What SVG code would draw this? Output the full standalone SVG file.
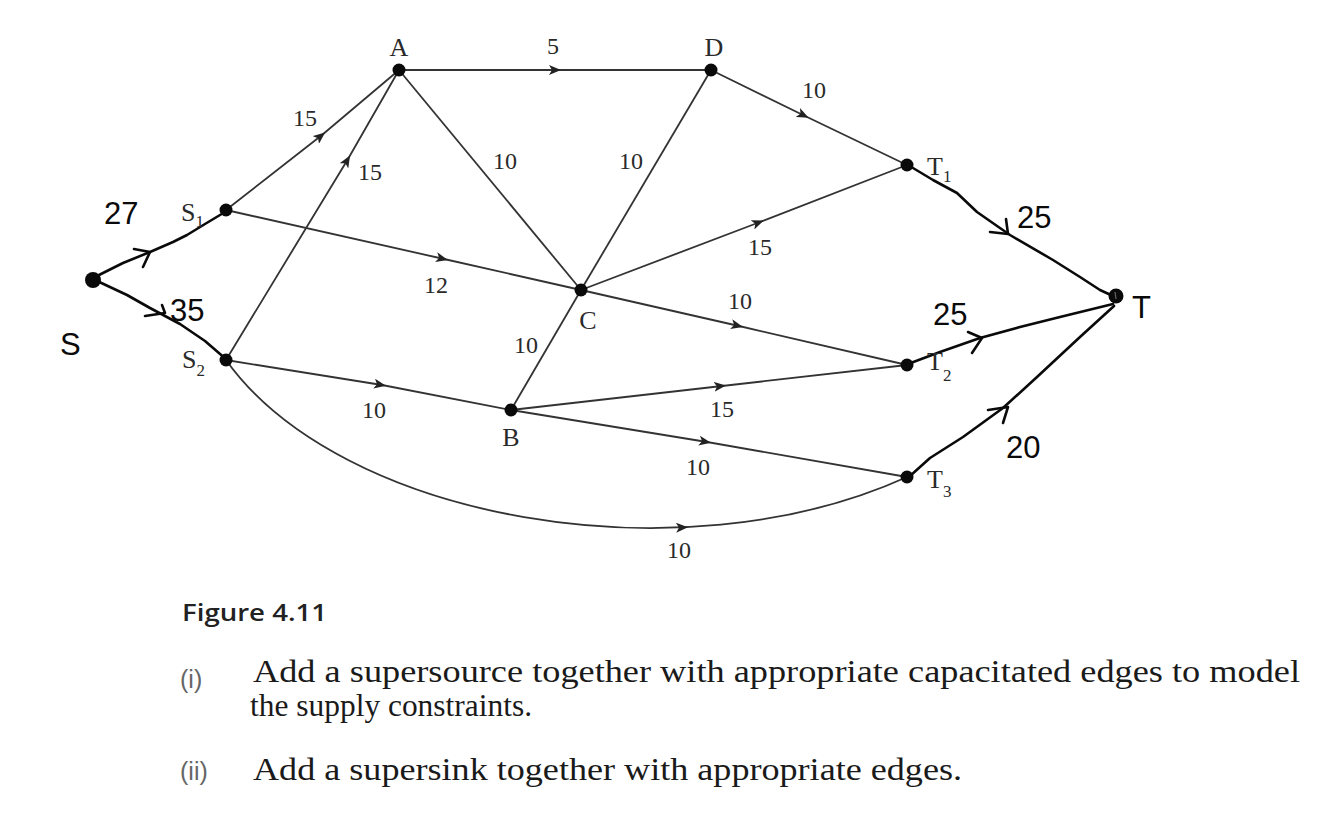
<svg xmlns="http://www.w3.org/2000/svg" width="1334" height="839" viewBox="0 0 1334 839">
<style>
.e{fill:none;stroke:#333;stroke-width:1.8;marker-mid:url(#arr)}
.u{fill:none;stroke:#333;stroke-width:1.8}
.h{fill:none;stroke:#0a0a0a;stroke-width:2.6;stroke-linecap:round;stroke-linejoin:round}
.n{fill:#0a0a0a}
.lb{font-family:"Liberation Serif",serif;font-size:24px;fill:#2a2a2a;text-anchor:middle}
.nl{font-family:"Liberation Serif",serif;font-size:26px;fill:#2a2a2a}
.sub{font-size:17px}
.hw{font-family:"Liberation Sans",sans-serif;font-size:31px;fill:#0a0a0a}
.body{font-family:"Liberation Serif",serif;font-size:32px;fill:#1a1a1a}
.num{font-family:"Liberation Sans",sans-serif;font-size:25px;fill:#666}
</style>
<defs>
<marker id="arr" viewBox="0 0 12 10" refX="8" refY="5" markerWidth="12" markerHeight="10" markerUnits="userSpaceOnUse" orient="auto">
<path d="M0,0 L12,5 L0,10 L3,5 Z" fill="#222"/>
</marker>
</defs>
<rect width="1334" height="839" fill="#fff"/>
<g id="connectors">
<path class="e" d="M399,70 L557,70 L711,70"/>
<path class="e" d="M226,210 L322,135 L399,70"/>
<path class="e" d="M226,360 L348,159 L399,70"/>
<path class="e" d="M226,210 L444,259 L581,290"/>
<path class="e" d="M711,70 L805,116 L907,165"/>
<path class="e" d="M581,290 L760,222 L907,165"/>
<path class="e" d="M581,290 L739,326 L907,365"/>
<path class="e" d="M511,410 L722,386 L907,365"/>
<path class="e" d="M511,410 L707,442 L907,477"/>
<path class="e" d="M226,360 L382,385 L511,410"/>
<path class="u" d="M399,70 L581,290"/>
<path class="u" d="M711,70 L581,290"/>
<path class="u" d="M581,290 L511,410"/>
<path class="u" d="M226,360 C340,520 680,580 907,477"/>
<path class="e" d="M676,527.7 L684,527.4 L690,527.1" style="stroke:none"/>
<path class="h" d="M95,277 L123,263 L150,252 L173,242 L187,235 L205,224 L225,212"/>
<path class="h" d="M95,280 L127,295 L150,308 L180,324 L205,341 L227,360"/>
<path class="h" d="M908,165 L933,180 L957,193 L977,212 L1010,235 L1053,260 L1080,277 L1100,290 L1113,296"/>
<path class="h" d="M908,364 L940,352 L980,338 L1020,327 L1060,317 L1113,304"/>
<path class="h" d="M910,476 L930,458 L963,437 L1003,408 L1037,377 L1080,337 L1114,306"/>
<path class="h" d="M134,249 L150,252 L143,267"/>
<path class="h" d="M145,316 L165,313 L162,305"/>
<path class="h" d="M990,232 L1008,234 L1006,219"/>
<path class="h" d="M968,332 L982,338 L972,353"/>
<path class="h" d="M988,410 L1008,407 L1003,423"/>
</g>
<g id="node-S"><circle class="n" cx="93" cy="280" r="8"/><text class="hw" x="60" y="355">S</text></g>
<g id="node-S1"><circle class="n" cx="226" cy="210" r="6.5"/><text class="nl" x="181" y="221">S<tspan class="sub" dy="6">1</tspan></text></g>
<g id="node-S2"><circle class="n" cx="226" cy="360" r="6.5"/><text class="nl" x="182" y="368">S<tspan class="sub" dy="8">2</tspan></text></g>
<g id="node-A"><circle class="n" cx="399" cy="70" r="6.5"/><text class="nl" x="399" y="56" text-anchor="middle">A</text></g>
<g id="node-D"><circle class="n" cx="711" cy="70" r="6.5"/><text class="nl" x="714" y="56" text-anchor="middle">D</text></g>
<g id="node-C"><circle class="n" cx="581" cy="290" r="6.5"/><text class="nl" x="588" y="329" text-anchor="middle">C</text></g>
<g id="node-B"><circle class="n" cx="511" cy="410" r="6.5"/><text class="nl" x="511" y="446" text-anchor="middle">B</text></g>
<g id="node-T1"><circle class="n" cx="907" cy="165" r="6.5"/><text class="nl" x="927" y="175">T<tspan class="sub" dy="7">1</tspan></text></g>
<g id="node-T2"><circle class="n" cx="907" cy="365" r="6.5"/><text class="nl" x="927" y="370">T<tspan class="sub" dy="11">2</tspan></text></g>
<g id="node-T3"><circle class="n" cx="907" cy="477" r="6.5"/><text class="nl" x="927" y="488">T<tspan class="sub" dy="9">3</tspan></text></g>
<g id="node-T"><circle class="n" cx="1116" cy="296" r="7.5"/><path d="M1115,292 L1116,299" stroke="#666" stroke-width="1.2"/><text class="hw" x="1132" y="318">T</text></g>
<g id="edge-labels">
<text class="lb" x="553" y="54">5</text>
<text class="lb" x="305" y="126">15</text>
<text class="lb" x="370" y="180">15</text>
<text class="lb" x="505" y="169">10</text>
<text class="lb" x="631" y="169">10</text>
<text class="lb" x="814" y="98">10</text>
<text class="lb" x="436" y="293">12</text>
<text class="lb" x="760" y="255">15</text>
<text class="lb" x="740" y="309">10</text>
<text class="lb" x="526" y="353">10</text>
<text class="lb" x="374" y="418">10</text>
<text class="lb" x="722" y="417">15</text>
<text class="lb" x="698" y="475">10</text>
<text class="lb" x="679" y="558">10</text>
</g>
<g id="handwritten-labels">
<text class="hw" x="104" y="224">27</text>
<text class="hw" x="170" y="321">35</text>
<text class="hw" x="1017" y="228">25</text>
<text class="hw" x="933" y="325">25</text>
<text class="hw" x="1006" y="458">20</text>
</g>
<g id="caption">
<text x="182" y="621" font-family="'Open Sans',sans-serif" font-weight="600" font-size="23" fill="#222" textLength="145" lengthAdjust="spacingAndGlyphs">Figure 4.11</text>
<text class="num" x="180" y="688">(i)</text>
<text class="body" x="253" y="682" textLength="1047" lengthAdjust="spacingAndGlyphs">Add a supersource together with appropriate capacitated edges to model</text>
<text class="body" x="250" y="716" textLength="282" lengthAdjust="spacingAndGlyphs">the supply constraints.</text>
<text class="num" x="180" y="780">(ii)</text>
<text class="body" x="253" y="780" textLength="709" lengthAdjust="spacingAndGlyphs">Add a supersink together with appropriate edges.</text>
</g>
</svg>
